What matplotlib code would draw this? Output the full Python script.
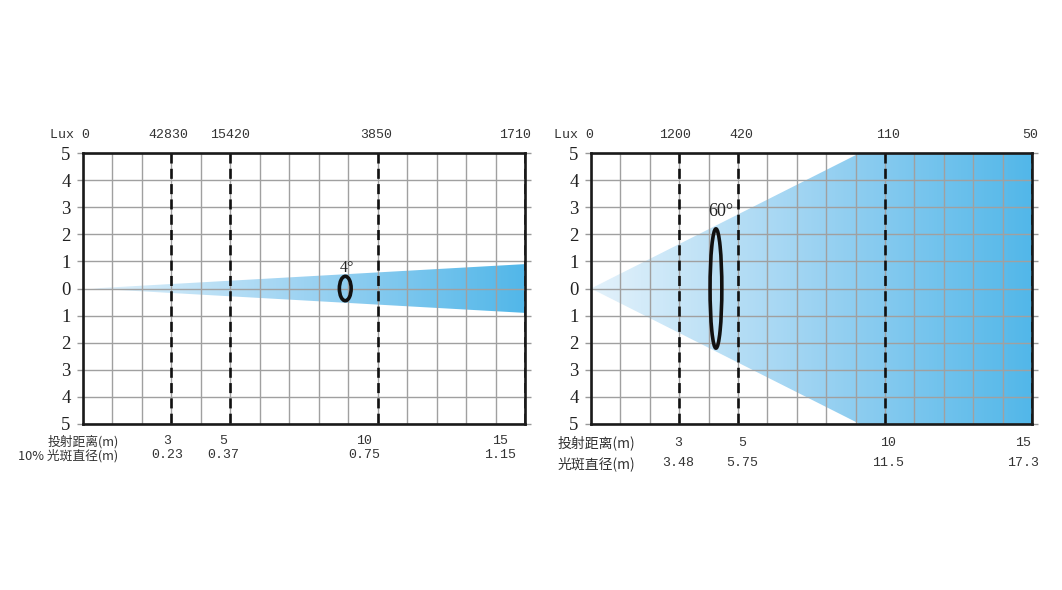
import matplotlib
matplotlib.use("Agg")
import matplotlib.pyplot as plt
from matplotlib.patches import Ellipse, Polygon
from matplotlib.colors import LinearSegmentedColormap
import numpy as np

# ---- data ----
distances = [3, 5, 10, 15]

left_lux = ["42830", "15420", "3850", "1710"]
left_diam = ["0.23", "0.37", "0.75", "1.15"]
left_angle = "4°"
left_beam_x = [0.3, 15]
left_beam_half = [0.0, 0.9]
left_spot = (8.9, 0.0, 0.4, 0.9)   # x, y, width, height

right_lux = ["1200", "420", "110", "50"]
right_diam = ["3.48", "5.75", "11.5", "17.3"]
right_angle = "60°"
right_beam_x = [0, 15]
right_beam_half = [0.0, 8.2]
right_spot = (4.25, 0.0, 0.4, 4.4)

ytick_vals = [5, 4, 3, 2, 1, 0, -1, -2, -3, -4, -5]
ytick_labels = [str(abs(v)) for v in ytick_vals]

CJK = ["Noto Sans CJK SC", "DejaVu Sans"]
MONO = ["Liberation Mono", "DejaVu Sans Mono"]
SERIF = ["Liberation Serif", "DejaVu Serif"]

beam_cmap = LinearSegmentedColormap.from_list("beam", ["#e4f2fb", "#9dd3f2", "#52b7e9"])

fig = plt.figure(figsize=(10.62, 5.90), dpi=100)
fig.patch.set_facecolor("white")

ax_l = fig.add_axes([83 / 1062, 1 - 424 / 590, 442 / 1062, 271 / 590])
ax_r = fig.add_axes([591 / 1062, 1 - 424 / 590, 441 / 1062, 271 / 590])


def draw_panel(ax, beam_x, beam_half, spot, angle_txt, angle_pos, angle_size):
    ax.set_xlim(0, 15)
    ax.set_ylim(-5, 5)
    ax.set_xticks(np.arange(0, 16, 1))
    ax.set_yticks(ytick_vals)
    ax.set_yticklabels(ytick_labels, family=SERIF, fontsize=13.5, color="#222222")
    ax.tick_params(axis="x", length=0, labelbottom=False)
    ax.tick_params(axis="y", direction="out", length=4, width=1, color="#999999",
                   pad=5, right=True)
    ax.grid(True, color="#a0a0a0", linewidth=1.0)
    ax.set_axisbelow(False)
    for sp in ax.spines.values():
        sp.set_linewidth(1.9)
        sp.set_color("#1a1a1a")
        sp.set_zorder(6)

    # beam with horizontal gradient
    bx = np.array(beam_x, dtype=float)
    bh = np.array(beam_half, dtype=float)
    verts = list(zip(bx, bh)) + list(zip(bx[::-1], -bh[::-1]))
    poly = Polygon(verts, closed=True, facecolor="none", edgecolor="none")
    ax.add_patch(poly)
    grad = np.linspace(0, 1, 256).reshape(1, -1)
    im = ax.imshow(grad, extent=[0, 15, -5, 5], aspect="auto", cmap=beam_cmap,
                   zorder=1, interpolation="bilinear")
    im.set_clip_path(poly)

    for d in distances:
        ax.plot([d, d], [5, -5], color="#111111", linewidth=1.9,
                linestyle=(0, (3.8, 2.0)), zorder=4, solid_capstyle="butt")

    ell = Ellipse((spot[0], spot[1]), spot[2], spot[3], facecolor="none",
                  edgecolor="#111111", linewidth=2.6, zorder=5)
    ax.add_patch(ell)
    ax.text(angle_pos[0], angle_pos[1], angle_txt, family=SERIF, fontsize=angle_size,
            ha="center", va="center", color="#222222", zorder=5)


draw_panel(ax_l, left_beam_x, left_beam_half, left_spot, left_angle, (8.95, 0.75), 11.5)
draw_panel(ax_r, right_beam_x, right_beam_half, right_spot, right_angle, (4.4, 2.85), 13)

tx_l = ax_l.get_xaxis_transform()
tx_r = ax_r.get_xaxis_transform()
top_y = 1.068

# left panel labels
ax_l.text(0.25, top_y, "Lux 0", transform=tx_l, ha="right", va="center",
          family=MONO, fontsize=9.5, color="#333333")
for d, s, dx in zip(distances, left_lux, [-0.1, 0.0, -0.05, -0.35]):
    ax_l.text(d + dx, top_y, s, transform=tx_l, ha="center", va="center",
              family=MONO, fontsize=9.5, color="#333333")
ax_l.text(1.2, -0.064, "投射距离(m)", transform=tx_l, ha="right", va="center",
          family=CJK, fontsize=9.2, color="#333333")
ax_l.text(1.2, -0.116, "10% 光斑直径(m)", transform=tx_l, ha="right", va="center",
          family=CJK, fontsize=9.2, color="#333333")
for d, s, xpos in zip(distances, left_diam, [2.85, 4.75, 9.55, 14.15]):
    ax_l.text(xpos, -0.064, str(d), transform=tx_l, ha="center", va="center",
              family=MONO, fontsize=9.5, color="#333333")
    ax_l.text(xpos, -0.116, s, transform=tx_l, ha="center", va="center",
              family=MONO, fontsize=9.5, color="#333333")

# right panel labels
ax_r.text(0.1, top_y, "Lux 0", transform=tx_r, ha="right", va="center",
          family=MONO, fontsize=9.5, color="#333333")
for d, s, dx in zip(distances, right_lux, [-0.15, 0.1, 0.1, -0.05]):
    ax_r.text(d + dx, top_y, s, transform=tx_r, ha="center", va="center",
              family=MONO, fontsize=9.5, color="#333333")
ax_r.text(-1.15, -0.07, "投射距离(m)", transform=tx_r, ha="left", va="center",
          family=CJK, fontsize=10, color="#333333")
ax_r.text(-1.15, -0.145, "光斑直径(m)", transform=tx_r, ha="left", va="center",
          family=CJK, fontsize=10, color="#333333")
for d, s, xpos in zip(distances, right_diam, [2.95, 5.15, 10.1, 14.7]):
    ax_r.text(xpos, -0.07, str(d), transform=tx_r, ha="center", va="center",
              family=MONO, fontsize=9.5, color="#333333")
    ax_r.text(xpos, -0.145, s, transform=tx_r, ha="center", va="center",
              family=MONO, fontsize=9.5, color="#333333")

fig.savefig("out.png", dpi=100, facecolor="white")
